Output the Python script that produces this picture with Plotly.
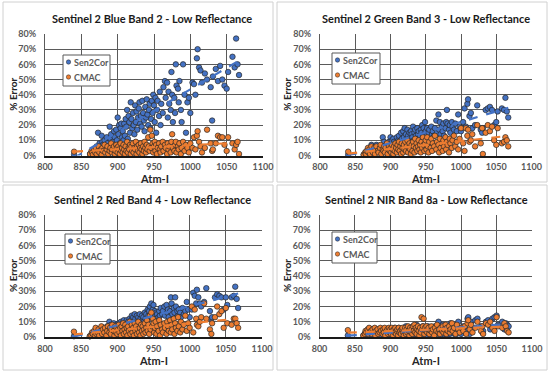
import numpy as np
import plotly.graph_objects as go

# Shared Atm-I values (x)
atm_i = [840,
    862, 864, 865, 866, 868, 869, 870, 871, 873, 874, 875, 877, 878, 879, 880, 882, 883, 885, 886, 887, 889, 890, 891, 892, 893, 895, 896, 897, 898, 899,
    900, 901, 902, 903, 904, 905, 906, 907, 908, 909, 910, 911, 912, 913, 914, 915, 916, 917, 918, 919, 920, 921, 922, 923, 924, 925, 926, 927, 928, 929,
    930, 931, 932, 933, 934, 935, 936, 937, 938, 939, 940, 941, 942, 943, 944, 945, 946, 947, 948, 949,
    950, 951, 952, 953, 954, 955, 957, 958, 959, 960, 962, 963, 965, 966, 968, 969, 970, 971, 973, 974, 975, 976, 978, 979, 980, 981, 983, 984, 985, 987, 988, 990, 992, 994, 996, 998,
    1000, 1003, 1005, 1007, 1009, 1010, 1012, 1014, 1016, 1020, 1023, 1028, 1030, 1031, 1035, 1038, 1041, 1044, 1047, 1050, 1052, 1058, 1061, 1063, 1065, 1067]

blue_sen2cor = [0.5,
    1, 0.5, 2, 3, 1, 4, 2, 6, 15, 5, 8, 3, 13, 9, 7, 10, 4, 12, 8, 6, 19, 11, 14, 5, 9, 16, 12, 7, 17, 10,
    25, 14, 20, 8, 18, 21, 12, 16, 10, 21, 13, 24, 19, 30, 11, 26, 22, 15, 35, 24, 18, 28, 20, 14, 33, 22, 29, 17, 25, 31,
    35, 21, 26, 19, 36, 28, 23, 16, 32, 25, 37, 27, 20, 30, 34, 18, 24, 36, 28, 40,
    33, 22, 38, 15, 30, 36, 26, 42, 20, 34, 28, 45, 49, 38, 48, 25, 42, 34, 30, 55, 40, 22, 38, 28, 60, 46, 44, 35, 49, 30, 22, 60, 40, 15, 35, 38,
    28, 48, 47, 40, 64, 70, 58, 56, 48, 54, 50, 45, 23, 52, 57, 49, 59, 50, 46, 44, 55, 65, 58, 77, 60, 53]
blue_cmac = [2.5,
    1, 3, 2, 0.5, 4, 2, 5, 1, 3, 6, 2, 4, 0.5, 5, 3, 7, 2, 4, 6, 1, 3, 5, 8, 2, 4, 6, 1, 3, 7, 5,
    2, 6, 4, 1, 8, 3, 5, 2, 7, 4, 1, 6, 3, 9, 2, 5, 4, 7, 1, 6, 3, 8, 2, 5, 4, 9, 1, 6, 3, 7,
    2, 5, 8, 4, 1, 6, 3, 9, 5, 2, 7, 4, 12, 6, 3, 17, 5, 13, 8, 2,
    6, 9, 3, 7, 1, 5, 8, 4, 2, 6, 9, 3, 7, 5, 1, 8, 4, 6, 2, 9, 14, 5, 3, 7, 9, 2, 6, 4, 8, 1, 5, 9, 3, 7, 5, 2,
    8, 5, 12, 4, 13, 16, 9, 6, 2, 5, 17, 8, 3, 4, 8, 13, 12, 12, 7, 3, 12, 8, 4, 7, 9, 1]

green_sen2cor = [0.5,
    0.5, 1, 2, 1, 3, 2, 4, 1, 7, 3, 5, 2, 6, 4, 7, 5, 3, 6, 4, 2, 12, 6, 9, 3, 5, 8, 6, 4, 9, 7,
    12, 7, 10, 5, 11, 9, 6, 8, 5, 12, 7, 10, 13, 9, 6, 15, 11, 8, 16, 12, 18, 10, 14, 8, 17, 13, 11, 15, 9, 16,
    14, 12, 19, 10, 15, 17, 13, 9, 18, 14, 16, 11, 13, 17, 15, 20, 12, 18, 14, 22,
    16, 13, 18, 11, 15, 17, 12, 19, 14, 16, 13, 18, 23, 15, 27, 17, 22, 14, 19, 16, 21, 13, 18, 22, 30, 21, 17, 20, 15, 22, 19, 17, 21, 16, 27, 19,
    16, 22, 31, 19, 34, 37, 26, 28, 18, 20, 33, 17, 15, 18, 30, 31, 32, 30, 20, 22, 29, 31, 30, 38, 29, 25]
green_cmac = [2.5,
    0.5, 2, 1, 3, 5, 2, 4, 1, 6, 3, 2, 5, 1, 4, 6, 3, 2, 5, 7, 1, 4, 3, 6, 2, 5, 8, 1, 4, 6, 3,
    5, 2, 7, 4, 1, 6, 3, 8, 5, 2, 7, 4, 9, 3, 6, 1, 8, 5, 2, 7, 4, 9, 3, 6, 10, 2, 5, 8, 4, 1,
    7, 3, 9, 6, 2, 11, 5, 8, 3, 6, 10, 4, 7, 2, 9, 5, 12, 7, 3, 8,
    10, 4, 12, 6, 2, 9, 5, 11, 3, 8, 6, 13, 4, 9, 7, 2, 11, 5, 8, 3, 10, 6, 12, 4, 9, 7, 2, 11, 8, 5, 10, 13, 6, 9, 4, 11,
    18, 8, 3, 18, 13, 17, 9, 10, 14, 6, 20, 8, 18, 1, 15, 20, 16, 19, 10, 7, 18, 8, 9, 12, 10, 6]

red_sen2cor = [0.5,
    0.5, 1, 2, 1, 3, 2, 4, 1, 5, 2, 4, 3, 5, 2, 6, 4, 3, 5, 7, 2, 10, 5, 8, 3, 6, 9, 4, 7, 5, 8,
    7, 5, 9, 4, 8, 10, 6, 9, 5, 11, 7, 9, 6, 11, 8, 10, 7, 12, 9, 11, 14, 10, 13, 8, 15, 12, 9, 14, 11, 13,
    10, 15, 12, 9, 14, 11, 13, 10, 16, 12, 15, 11, 18, 14, 17, 20, 13, 22, 15, 18,
    21, 14, 17, 12, 16, 15, 13, 17, 14, 19, 15, 17, 20, 14, 21, 16, 18, 13, 17, 26, 22, 15, 19, 16, 26, 20, 17, 14, 18, 16, 13, 19, 15, 17, 23, 18,
    13, 18, 29, 27, 22, 31, 26, 22, 20, 23, 32, 17, 12, 13, 26, 28, 27, 26, 18, 26, 21, 26, 27, 33, 25, 19]
red_cmac = [3.5,
    0.5, 1, 3, 2, 4, 1, 6, 2, 3, 5, 1, 4, 7, 2, 5, 3, 6, 1, 4, 7, 3, 6, 2, 5, 8, 4, 1, 7, 3, 6,
    2, 5, 8, 3, 6, 1, 7, 4, 9, 2, 5, 8, 3, 6, 1, 7, 4, 10, 2, 5, 8, 3, 6, 1, 9, 4, 7, 2, 5, 10,
    3, 6, 1, 8, 4, 7, 2, 5, 9, 3, 6, 11, 4, 8, 2, 14, 5, 16, 7, 12,
    9, 3, 6, 10, 2, 7, 4, 11, 1, 8, 5, 3, 9, 6, 2, 10, 7, 4, 11, 3, 8, 5, 12, 2, 9, 6, 4, 13, 7, 3, 10, 5, 8, 14, 4, 9,
    6, 20, 3, 18, 12, 8, 7, 10, 13, 22, 12, 5, 2, 9, 13, 20, 15, 17, 6, 19, 9, 8, 12, 12, 9, 6]

nir_sen2cor = [1,
    1, 2, 3, 1, 2, 4, 1, 3, 2, 5, 1, 3, 2, 4, 1, 3, 5, 2, 1, 4, 3, 2, 5, 1, 3, 4, 2, 1, 5, 3,
    2, 4, 1, 5, 3, 2, 6, 1, 4, 3, 5, 2, 6, 3, 1, 4, 2, 5, 3, 6, 1, 4, 7, 2, 5, 3, 1, 6, 4, 2,
    5, 3, 7, 1, 4, 6, 2, 8, 3, 5, 1, 4, 6, 2, 5, 3, 7, 2, 4, 6,
    3, 5, 1, 7, 4, 2, 6, 3, 5, 1, 4, 7, 2, 5, 10, 3, 6, 1, 4, 8, 2, 5, 3, 7, 1, 6, 4, 2, 9, 5, 3, 7, 1, 4, 10, 6,
    2, 7, 4, 5, 12, 13, 2, 10, 6, 11, 12, 7, 3, 4, 10, 11, 5, 12, 13, 14, 8, 10, 5, 9, 8, 7]
nir_cmac = [4.5,
    1, 2, 4, 3, 5, 2, 6, 3, 4, 2, 5, 3, 6, 1, 4, 5, 2, 3, 6, 4, 2, 5, 3, 6, 1, 4, 5, 2, 6, 3,
    5, 2, 6, 4, 1, 5, 3, 6, 2, 4, 5, 1, 6, 3, 4, 2, 5, 6, 3, 1, 4, 6, 2, 5, 3, 7, 4, 1, 6, 3,
    5, 2, 7, 4, 8, 3, 6, 2, 5, 7, 4, 1, 6, 3, 13, 5, 7, 12, 2, 6,
    4, 7, 3, 5, 6, 2, 4, 7, 3, 5, 1, 6, 4, 8, 3, 5, 2, 6, 4, 7, 3, 5, 8, 2, 6, 4, 7, 3, 5, 9, 4, 6, 2, 8, 5, 3,
    6, 4, 7, 2, 9, 11, 5, 8, 3, 6, 10, 4, 7, 2, 9, 8, 10, 6, 4, 13, 7, 6, 9, 7, 4, 3]

titles = ["Sentinel 2 Blue Band 2 - Low Reflectance",
          "Sentinel 2 Green Band 3 - Low Reflectance",
          "Sentinel 2 Red Band 4 - Low Reflectance",
          "Sentinel 2 NIR Band 8a - Low Reflectance"]
series_names = ["Sen2Cor", "CMAC"]
panels = [(blue_sen2cor, blue_cmac), (green_sen2cor, green_cmac),
          (red_sen2cor, red_cmac), (nir_sen2cor, nir_cmac)]
x_ticks = [800, 850, 900, 950, 1000, 1050, 1100]
y_ticks = [0, 10, 20, 30, 40, 50, 60, 70, 80]
y_tick_labels = ["0%", "10%", "20%", "30%", "40%", "50%", "60%", "70%", "80%"]
x_title = "Atm-I"
y_title = "% Error"

W, H = 550, 373
# plot areas in pixels: (left, right, top, bottom)
areas = [(45, 263, 34, 155.5), (320, 531.5, 34, 155.5),
         (45, 262, 215, 337), (319.5, 532, 215, 337)]
boxes = [(3, 273, 2, 182), (277, 547, 2, 182), (3, 273, 185, 370), (277, 547, 185, 370)]
legend_boxes = [(63, 110, 55, 86), (332, 380, 53, 84), (65, 110, 234, 264), (332, 377, 232, 263)]

BLUE = "#4472C4"
ORANGE = "#ED7D31"
FONT = "Lato"
GRID = "#5A5A5A"

fig = go.Figure()
layout = dict(width=W, height=H, margin=dict(l=0, r=0, t=0, b=0, autoexpand=False),
              paper_bgcolor="white", plot_bgcolor="white", showlegend=False,
              font=dict(family=FONT))
shapes, annotations = [], []
xarr = np.array(atm_i, dtype=float)


def px(v):
    return v / W


def py(v):
    return 1 - v / H


for i, (ys, title) in enumerate(zip(panels, titles)):
    n = i + 1
    xa = "x" if n == 1 else f"x{n}"
    ya = "y" if n == 1 else f"y{n}"
    colors = [BLUE, ORANGE]
    for yv, name, col in zip(ys, series_names, colors):
        fig.add_trace(go.Scatter(x=atm_i, y=yv, mode="markers", name=name,
                                 xaxis=xa, yaxis=ya, cliponaxis=False,
                                 marker=dict(size=5.5, color=col,
                                             line=dict(color="#262626", width=0.7))))
    for yv, col in zip(ys, colors):
        k, b = np.polyfit(xarr, np.array(yv, dtype=float), 1)
        xs = [xarr.min(), xarr.max()]
        fig.add_trace(go.Scatter(x=xs, y=[k * v + b for v in xs], mode="lines",
                                 xaxis=xa, yaxis=ya, hoverinfo="skip",
                                 line=dict(color=col, width=2.2, dash="dash")))
    l, r, t, bt = areas[i]
    axkey = "xaxis" if n == 1 else f"xaxis{n}"
    aykey = "yaxis" if n == 1 else f"yaxis{n}"
    layout[axkey] = dict(domain=[px(l), px(r)], anchor=ya, range=[800, 1100],
                         tickvals=x_ticks, showgrid=True, gridcolor=GRID, gridwidth=1,
                         zeroline=False, showline=True, linecolor="#1a1a1a", linewidth=2,
                         ticks="outside", ticklen=2, tickcolor="rgba(0,0,0,0)",
                         tickfont=dict(size=9, color="#595959", family=FONT, weight="bold"))
    layout[aykey] = dict(domain=[py(bt), py(t)], anchor=xa, range=[0, 80],
                         tickvals=y_ticks, ticktext=y_tick_labels, showgrid=True,
                         gridcolor=GRID, gridwidth=1, zeroline=False, showline=True,
                         linecolor=GRID, ticks="outside", ticklen=6,
                         tickcolor="rgba(0,0,0,0)",
                         tickfont=dict(size=9, color="#595959", family=FONT, weight="bold"))
    bx0, bx1, by0, by1 = boxes[i]
    shapes.append(dict(type="rect", xref="paper", yref="paper",
                       x0=px(bx0), x1=px(bx1), y0=py(by1), y1=py(by0),
                       line=dict(color="#D0D0D0", width=1), layer="below"))
    # legend box
    lx0, lx1, ly0, ly1 = legend_boxes[i]
    shapes.append(dict(type="rect", xref="paper", yref="paper",
                       x0=px(lx0), x1=px(lx1), y0=py(ly1), y1=py(ly0),
                       fillcolor="white", line=dict(color="#595959", width=1), layer="above"))
    for j, (name, col) in enumerate(zip(series_names, colors)):
        cy = ly0 + 7 + j * 15
        cx = lx0 + 5.5
        shapes.append(dict(type="circle", xref="paper", yref="paper",
                           x0=px(cx - 2.2), x1=px(cx + 2.2), y0=py(cy + 2.2), y1=py(cy - 2.2),
                           fillcolor=col, line=dict(color="#262626", width=0.5), layer="above"))
        annotations.append(dict(text=name, xref="paper", yref="paper",
                                x=px(lx0 + 8.5), y=py(cy), showarrow=False,
                                xanchor="left", yanchor="middle",
                                font=dict(size=9, color="#595959", family=FONT, weight="bold")))
    annotations.append(dict(text=f"<b>{title}</b>", xref="paper", yref="paper",
                            x=px((bx0 + bx1) / 2 + 14), y=py(t - 16),
                            showarrow=False, xanchor="center", yanchor="middle",
                            font=dict(size=11, color="#1a1a1a", family=FONT)))
    annotations.append(dict(text=f"<b>{x_title}</b>", xref="paper", yref="paper",
                            x=px((l + r) / 2), y=py(bt + 23),
                            showarrow=False, xanchor="center", yanchor="middle",
                            font=dict(size=11, color="#262626", family=FONT)))
    annotations.append(dict(text=f"<b>{y_title}</b>", xref="paper", yref="paper",
                            x=px(bx0 + 10), y=py((t + bt) / 2), textangle=-90,
                            showarrow=False, xanchor="center", yanchor="middle",
                            font=dict(size=10, color="#262626", family=FONT)))

layout["shapes"] = shapes
layout["annotations"] = annotations
fig.update_layout(**layout)
fig.write_html("out.html", config={"displayModeBar": False},
               post_script="document.body.style.margin='0';document.body.style.overflow='hidden';")
